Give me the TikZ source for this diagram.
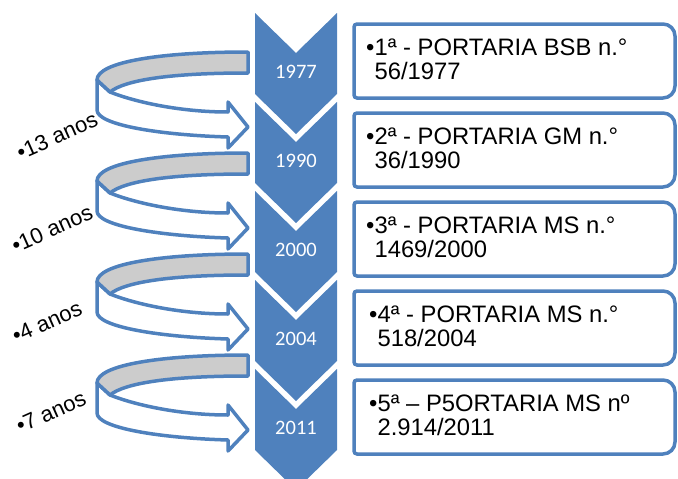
\documentclass[tikz,border=0pt]{standalone}
\usepackage{fontspec}
\setmainfont{Liberation Sans}
\newfontfamily\yearfont{Carlito}
\definecolor{ChevronBlue}{RGB}{79,129,189}
\definecolor{FrameBlue}{RGB}{79,129,189}
\definecolor{RibbonGray}{RGB}{204,204,204}

\tikzset{
  year/.style={text=white, inner sep=0pt, font=\yearfont\fontsize{20.5}{22}\selectfont},
  portaria/.style={anchor=base west, inner sep=0pt, font=\fontsize{23.8}{24}\selectfont},
  interval/.style={rotate=24, inner sep=0pt, font=\fontsize{22}{23}\selectfont},
  ribbon/.style={draw=FrameBlue, line width=3.5pt, line join=round},
  frame/.style={draw=FrameBlue, line width=3.5pt, fill=white},
}

\begin{document}
\begin{tikzpicture}[x=1pt, y=-1pt]

    \useasboundingbox (0,0) rectangle (678,479);
    \clip (0,0) rectangle (678,479);

    % Geometry of the chevron column
    \def\chevLeft{255}
    \def\chevHalf{41}
    \def\chevDepth{40}
    \def\chevSide{81}

    % ---------- Chevrons with the years

    \foreach \year [count=\i from 0] in {1977,1990,2000,2004,2011} {
        \pgfmathsetmacro\chevTop{13+89*\i}
        \fill[ChevronBlue] (\chevLeft,\chevTop) -- ++(\chevHalf,\chevDepth) -- ++(\chevHalf,-\chevDepth)
            -- ++(0,\chevSide) -- ++(-\chevHalf,\chevDepth) -- ++(-\chevHalf,-\chevDepth) -- cycle;
        \node[year] (year\year) at (\chevLeft+\chevHalf,\chevTop+59) {\year};
    }

    % ---------- Curved ribbons

    \foreach \ribTop in {52,153,254,355} {
        \begin{scope}[shift={(0,\ribTop)}]
            \coordinate (ribA) at (248,0);
            \coordinate (ribB) at (248,21);
            \coordinate (ribC) at (110,40);
            \coordinate (ribD) at (97,28);
            \coordinate (ribE) at (228,60);
            \coordinate (ribJ) at (97,58);
            % White lower part with the arrow head
            \draw[ribbon, fill=white] (ribD) -- (ribC) .. controls (135,50) and (180,60) .. (ribE)
                -- (228,50) -- (248,75) -- (228,96) -- (228,85)
                .. controls (160,83) and (97,73) .. (ribJ) -- cycle;
            % Grey upper part
            \draw[ribbon, fill=RibbonGray] (ribA) -- (ribB) .. controls (170,21) and (125,28) .. (ribC)
                -- (ribD) .. controls (97,10) and (160,0) .. (ribA) -- cycle;
        \end{scope}
    }

    % ---------- Intervals

    \node[interval] (gapOne) at (57,136) {•13 anos};
    \node[interval] (gapTwo) at (52,229) {•10 anos};
    \node[interval] (gapThree) at (47,322) {•4 anos};
    \node[interval] (gapFour) at (51,412) {•7 anos};

    % ---------- Portarias

    \draw[frame] (515,24) [rounded corners=12pt] -- (675,24) -- (675,98) -- (515,98)
        [rounded corners=3pt] -- (354,98) -- (354,24) -- cycle;
    \node[portaria] (portOne) at (366,55)
        {•\begin{tabular}[t]{@{}l@{}}1ª - PORTARIA BSB n.°\\56/1977\end{tabular}};

    \draw[frame] (515,113) [rounded corners=12pt] -- (675,113) -- (675,187) -- (515,187)
        [rounded corners=3pt] -- (354,187) -- (354,113) -- cycle;
    \node[portaria] (portTwo) at (366,144)
        {•\begin{tabular}[t]{@{}l@{}}2ª - PORTARIA GM n.°\\36/1990\end{tabular}};

    \draw[frame] (515,202) [rounded corners=12pt] -- (675,202) -- (675,276) -- (515,276)
        [rounded corners=3pt] -- (354,276) -- (354,202) -- cycle;
    \node[portaria] (portThree) at (366,233)
        {•\begin{tabular}[t]{@{}l@{}}3ª - PORTARIA MS n.°\\1469/2000\end{tabular}};

    \draw[frame] (515,291) [rounded corners=12pt] -- (675,291) -- (675,365) -- (515,365)
        [rounded corners=3pt] -- (354,365) -- (354,291) -- cycle;
    \node[portaria] (portFour) at (369,322)
        {•\begin{tabular}[t]{@{}l@{}}4ª - PORTARIA MS n.°\\518/2004\end{tabular}};

    \draw[frame] (515,380) [rounded corners=12pt] -- (675,380) -- (675,454) -- (515,454)
        [rounded corners=3pt] -- (354,454) -- (354,380) -- cycle;
    \node[portaria] (portFive) at (369,411)
        {•\begin{tabular}[t]{@{}l@{}}5ª – P5ORTARIA MS nº\\2.914/2011\end{tabular}};

\end{tikzpicture}
\end{document}
